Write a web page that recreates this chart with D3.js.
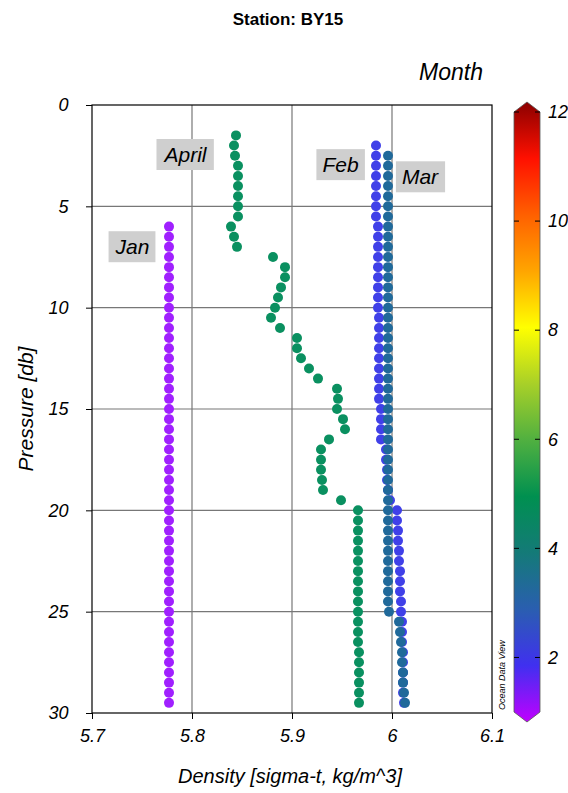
<!DOCTYPE html><html><head><meta charset="utf-8">
<script src="https://cdn.jsdelivr.net/npm/d3@7"></script>
<style>body{margin:0;background:#fff}text{font-family:"Liberation Sans",Arial,sans-serif}</style></head><body>
<svg id="c" width="568" height="793"></svg>
<script>
const xTicks=[5.7,5.8,5.9,6.0,6.1];
const xTickLabels=["5.7","5.8","5.9","6","6.1"];
const yTicks=[0,5,10,15,20,25,30];
const cbTicks=[2,4,6,8,10,12];
const seq=(a,b)=>{const r=[];for(let v=a;v<=b+1e-9;v+=0.5)r.push(+v.toFixed(1));return r;};
const janP=seq(6,29.5);
const janD=[5.777,5.777,5.777,5.777,5.777,5.777,5.777,5.777,5.777,5.777,
5.777,5.777,5.777,5.777,5.777,5.777,5.777,5.777,5.777,5.777,
5.777,5.777,5.777,5.777,5.777,5.777,5.777,5.777,5.777,5.777,
5.777,5.777,5.777,5.777,5.777,5.777,5.777,5.777,5.777,5.777,
5.777,5.777,5.777,5.777,5.777,5.777,5.777,5.777];
const febP=seq(2,29.5);
const febD=[5.984,5.984,5.984,5.984,5.984,5.984,5.984,5.984,5.986,5.986,5.986,5.986,5.986,5.986,5.986,5.986,5.986,5.987,5.987,5.987,5.987,5.987,5.987,5.987,5.987,5.987,5.989,5.989,5.989,5.989,5.994,5.994,5.995,5.995,5.996,5.998,6.005,6.005,6.006,6.006,6.007,6.007,6.008,6.008,6.008,6.009,6.009,6.010,6.010,6.010,6.011,6.011,6.011,6.011,6.011,6.012];
const marP=seq(2.5,29.5);
const marD=[5.996,5.996,5.996,5.996,5.996,5.996,5.996,5.996,5.996,5.996,
5.996,5.996,5.996,5.996,5.996,5.996,5.996,5.996,5.996,5.996,
5.996,5.996,5.996,5.996,5.996,5.996,5.996,5.996,5.996,5.996,
5.996,5.996,5.996,5.996,5.996,5.996,5.996,5.996,5.996,5.996,
5.996,5.996,5.996,5.996,5.996,5.997,
6.007,6.008,6.009,6.010,6.010,6.011,6.011,6.012,6.013];
const aprP=seq(1.5,29.5);
const aprD=[5.844,5.842,5.843,5.846,5.846,5.846,5.846,5.846,5.846,5.839,5.842,5.845,5.881,5.893,5.893,5.889,5.886,5.883,5.879,5.888,5.905,5.905,5.909,5.917,5.926,5.945,5.946,5.945,5.951,5.953,5.937,5.929,5.929,5.929,5.930,5.931,5.949,5.966,5.966,5.966,5.966,5.966,5.966,5.966,5.966,5.966,5.966,5.966,5.966,5.966,5.966,5.967,5.967,5.967,5.967,5.967,5.967];
const series=[{m:"Jan",c:"#a020ff",p:janP,d:janD},{m:"April",c:"#0a9060",p:aprP,d:aprD},{m:"Feb",c:"#4040e8",p:febP,d:febD},{m:"Mar",c:"#20699a",p:marP,d:marD}];
const labels=[{t:"Jan",x:5.7405,y:7},{t:"April",x:5.7935,y:2.45},{t:"Feb",x:5.9485,y:2.95},{t:"Mar",x:6.028,y:3.55}];
const cbStops=[[1,"#c000ff"],[2,"#4030f0"],[3,"#2a5eb0"],[4,"#147a78"],[5,"#009050"],[6,"#50b040"],[7,"#a8d028"],[8,"#ffff00"],[9,"#ffa500"],[10,"#ff6000"],[11,"#ff1000"],[12,"#8b0000"]];

const svg=d3.select("#c");
const L=92,R=492,T=105,B=713;
const x=d3.scaleLinear().domain([5.7,6.1]).range([L,R]);
const y=d3.scaleLinear().domain([0,30]).range([T,B]);
svg.append("text").attr("x",288).attr("y",25).attr("text-anchor","middle").attr("font-weight","bold").attr("font-size",17).attr("font-family","Open Sans,sans-serif").text("Station: BY15");
svg.append("g").selectAll("line").data(xTicks.slice(1,-1)).join("line").attr("x1",d=>x(d)).attr("x2",d=>x(d)).attr("y1",T).attr("y2",B).attr("stroke","#777").attr("stroke-width",1.2);
svg.append("g").selectAll("line").data(yTicks.slice(1,-1)).join("line").attr("y1",d=>y(d)).attr("y2",d=>y(d)).attr("x1",L).attr("x2",R).attr("stroke","#777").attr("stroke-width",1.2);
svg.append("rect").attr("x",L).attr("y",T).attr("width",R-L).attr("height",B-T).attr("fill","none").attr("stroke","#000").attr("stroke-width",1.2);
const xa=svg.append("g").attr("transform",`translate(0,${B})`).call(d3.axisBottom(x).tickValues(xTicks).tickFormat((d,i)=>xTickLabels[i]).tickSize(6).tickSizeOuter(0));
const ya=svg.append("g").attr("transform",`translate(${L},0)`).call(d3.axisLeft(y).tickValues(yTicks).tickSize(6).tickSizeOuter(0));
[xa,ya].forEach(a=>{a.select(".domain").remove();a.selectAll("text").attr("font-size",18).attr("font-style","italic").attr("fill","#000");});
xa.selectAll("text").attr("dy","1.1em");
ya.selectAll("text").attr("dx","-0.8em");
svg.append("text").attr("x",290).attr("y",783).attr("text-anchor","middle").attr("font-size",20).attr("font-style","italic").text("Density [sigma-t, kg/m^3]");
svg.append("text").attr("transform","translate(33,409) rotate(-90)").attr("text-anchor","middle").attr("font-size",21).attr("font-style","italic").text("Pressure [db]");
svg.append("text").attr("x",483).attr("y",80).attr("text-anchor","end").attr("font-size",23).attr("font-style","italic").text("Month");
series.forEach(s=>{
  svg.append("g").selectAll("circle").data(s.p.map((p,i)=>[s.d[i],p])).join("circle")
    .attr("cx",d=>x(d[0])).attr("cy",d=>y(d[1])).attr("r",5).attr("fill",s.c);
});
labels.forEach(l=>{
  const g=svg.append("g");
  const t=g.append("text").attr("x",x(l.x)).attr("y",y(l.y)).attr("text-anchor","middle").attr("dy","0.35em").attr("font-size",21).attr("font-style","italic").text(l.t);
  const bb=t.node().getBBox();
  g.insert("rect","text").attr("x",bb.x-6).attr("y",bb.y-4).attr("width",bb.width+12).attr("height",bb.height+8).attr("fill","#cfcfcf");
});
const cy=d3.scaleLinear().domain([1,12]).range([712,112]);
const cbX=514,cbW=26;
const defs=svg.append("defs");
const grad=defs.append("linearGradient").attr("id","g").attr("x1",0).attr("y1",1).attr("x2",0).attr("y2",0);
cbStops.forEach(([v,c])=>grad.append("stop").attr("offset",(v-1)/11).attr("stop-color",c));
svg.append("path").attr("d",`M${cbX},${cy(12)}L${cbX+cbW/2},${cy(12)-10}L${cbX+cbW},${cy(12)}L${cbX+cbW},${cy(1)}L${cbX+cbW/2},${cy(1)+10}L${cbX},${cy(1)}Z`).attr("fill","url(#g)").attr("stroke","#555").attr("stroke-width",0.8);
svg.append("g").selectAll("line").data(cbTicks).join("line").attr("x1",cbX).attr("x2",cbX+5).attr("y1",d=>cy(d)).attr("y2",d=>cy(d)).attr("stroke","#000");
svg.append("g").selectAll("line").data(cbTicks).join("line").attr("x1",cbX+cbW-5).attr("x2",cbX+cbW).attr("y1",d=>cy(d)).attr("y2",d=>cy(d)).attr("stroke","#000");
svg.append("g").selectAll("text").data(cbTicks).join("text").attr("x",cbX+cbW+8).attr("y",d=>cy(d)).attr("dy","0.35em").attr("font-size",18).attr("font-style","italic").text(d=>d);
svg.append("text").attr("transform","translate(505,710) rotate(-90)").attr("font-size",9).attr("font-style","italic").text("Ocean Data View");
</script></body></html>
